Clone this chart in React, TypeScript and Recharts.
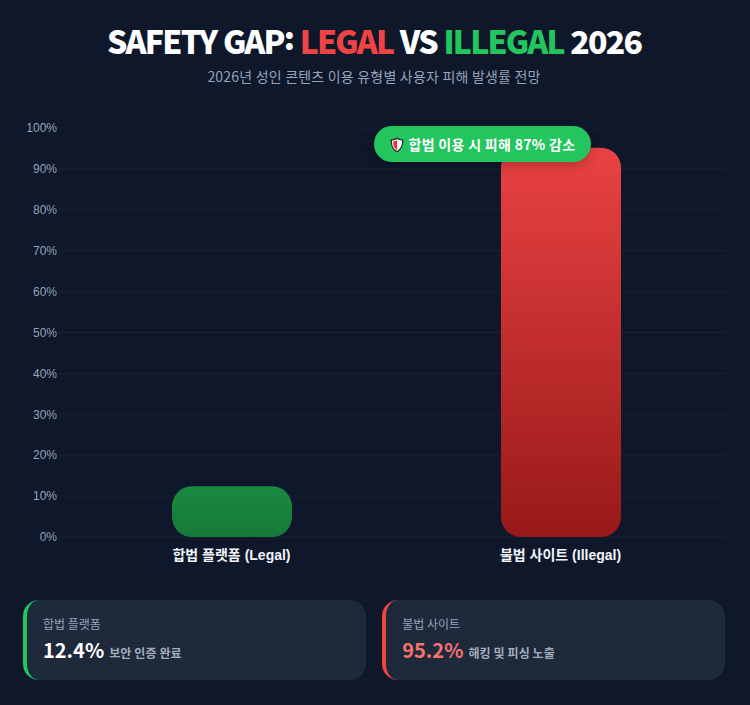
import React from "react";
import { BarChart, Bar, XAxis, YAxis, CartesianGrid, Cell } from "recharts";

const categories = ["합법 플랫폼 (Legal)", "불법 사이트 (Illegal)"];
const rates = [12.4, 95.2];
const yTicks = [0, 10, 20, 30, 40, 50, 60, 70, 80, 90, 100];
const fills = ["url(#gradLegal)", "url(#gradIllegal)"];
const data = categories.map((name, i) => ({ name, rate: rates[i] }));

const BG = "#0f172a";
const CARD = "#1e293b";
const GRID = "rgba(255,255,255,0.05)";
const CJK = '"Noto Sans CJK KR", sans-serif';
const UI = '"Liberation Sans", "Noto Sans CJK KR", sans-serif';

if (typeof document !== "undefined") {
  document.documentElement.style.background = BG;
  document.body.style.background = BG;
  document.body.style.margin = "0";
}

function Card({ left, accent, label, value, valueColor, note }: any) {
  return (
    <div style={{ position: "absolute", left, top: 600, width: 343.25, height: 80, boxSizing: "border-box", background: CARD, borderRadius: 16, borderLeft: `4px solid ${accent}`, fontFamily: CJK }}>
      <div style={{ position: "absolute", left: 16.5, top: 15, fontSize: 12, lineHeight: "18px", color: "#94a3b8", whiteSpace: "nowrap" }}>{label}</div>
      <div style={{ position: "absolute", left: 16.5, top: 34, whiteSpace: "nowrap", lineHeight: "32px" }}>
        <span style={{ fontSize: 20, fontWeight: 700, color: valueColor }}>{value}</span>
        <span style={{ fontSize: 12, fontWeight: 700, color: "#a3aebd", marginLeft: 5, letterSpacing: 0.1 }}>{note}</span>
      </div>
    </div>
  );
}

function Shield() {
  return (
    <svg width={14} height={16} viewBox="0 0 14 16" style={{ verticalAlign: "-3px", marginRight: 5 }} role="img" aria-label="🛡️">
      <path d="M7 .5 C9 1.8 11 2.2 13.3 2.3 C13.6 8 12 12.5 7 15.5 C2 12.5 .4 8 .7 2.3 C3 2.2 5 1.8 7 .5 Z" fill="#2b2b33" />
      <path d="M7 2 C8.7 3 10.4 3.4 12 3.5 C12.2 8 11 11.6 7 14 C3 11.6 1.8 8 2 3.5 C3.6 3.4 5.3 3 7 2 Z" fill="#f4f4f4" />
      <path d="M7 3 L7 13 C4 11 3 8 3.2 4.4 C4.6 4.2 5.8 3.8 7 3 Z" fill="#e5343a" />
    </svg>
  );
}

export default function App() {
  return (
    <div style={{ position: "absolute", left: 0, top: 0, width: 750, height: 705, background: BG }}>
      <div style={{ position: "absolute", left: -1, top: 18, width: 750, textAlign: "center", fontFamily: CJK, fontSize: 32, fontWeight: 900, lineHeight: "44px", color: "#ffffff", letterSpacing: -1.8, wordSpacing: 1, whiteSpace: "nowrap" }}>
        SAFETY GAP<span style={{ position: "relative", top: -4 }}>:</span> <span style={{ color: "#ef4444" }}>LEGAL</span> VS <span style={{ color: "#22c55e" }}>ILLEGAL</span> 2026
      </div>
      <div style={{ position: "absolute", left: -1, top: 66, width: 750, textAlign: "center", fontFamily: CJK, fontSize: 14, lineHeight: "20px", color: "#94a3b8", letterSpacing: 0.2 }}>
        2026년 성인 콘텐츠 이용 유형별 사용자 피해 발생률 전망
      </div>
      <div style={{ position: "absolute", left: 0, top: 100 }}>
        <BarChart width={750} height={480} data={data} margin={{ top: 28, right: 25, bottom: 0, left: 0 }} barCategoryGap={0}>
          <defs>
            <linearGradient id="gradLegal" x1="0" y1="0" x2="0" y2="1">
              <stop offset="0%" stopColor="#1a8a3f" />
              <stop offset="100%" stopColor="#167a37" />
            </linearGradient>
            <linearGradient id="gradIllegal" x1="0" y1="0" x2="0" y2="1">
              <stop offset="0%" stopColor="#ea4242" />
              <stop offset="100%" stopColor="#981919" />
            </linearGradient>
          </defs>
          <CartesianGrid vertical={false} stroke={GRID} strokeWidth={1} />
          <XAxis dataKey="name" height={43} axisLine={false} tickLine={false} interval={0} tickMargin={7}
            tick={{ fill: "#f1f5f9", fontFamily: UI, fontSize: 14, fontWeight: 700 }} />
          <YAxis width={67} domain={[0, 100]} ticks={yTicks} interval={0} axisLine={{ stroke: "rgba(255,255,255,0.025)" }} tickLine={{ stroke: GRID }} tickSize={8} tickMargin={2}
            tickFormatter={(v: number) => `${v}%`} tick={{ fill: "#94a3b8", fontFamily: UI, fontSize: 12 }} />
          <Bar dataKey="rate" barSize={120} radius={20} isAnimationActive={false}>
            {data.map((d, i) => <Cell key={d.name} fill={fills[i]} />)}
          </Bar>
        </BarChart>
      </div>
      <div style={{ position: "absolute", left: 374, top: 126, width: 217, height: 36, borderRadius: 18, background: "#22c55e", boxShadow: "0 4px 12px rgba(0,0,0,0.2)", color: "#fff", fontFamily: CJK, fontWeight: 700, fontSize: 14, lineHeight: "36px", textAlign: "center", whiteSpace: "nowrap", letterSpacing: 0.3 }}>
        <Shield />합법 이용 시 피해 87% 감소
      </div>
      <Card left={22.5} accent="#22c55e" label="합법 플랫폼" value="12.4%" valueColor="#ffffff" note="보안 인증 완료" />
      <Card left={381.75} accent="#ef4444" label="불법 사이트" value="95.2%" valueColor="#f87171" note="해킹 및 피싱 노출" />
    </div>
  );
}
